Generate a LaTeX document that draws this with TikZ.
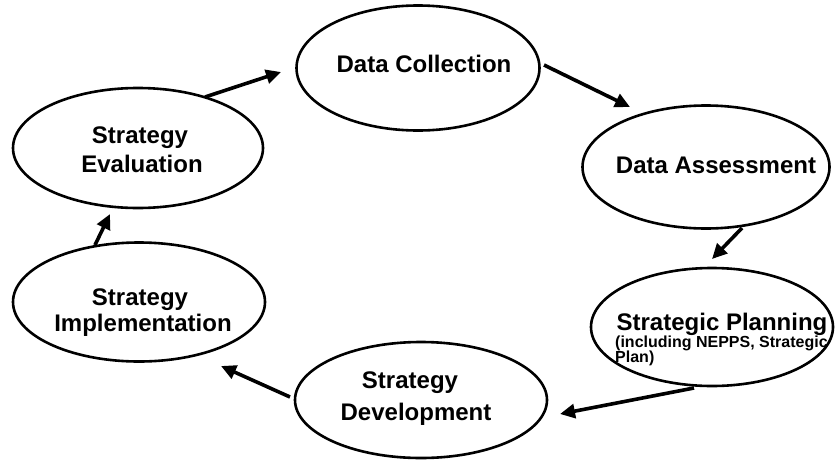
\documentclass[tikz,border=0pt]{standalone}
\usepackage{fontspec}
\setmainfont{Liberation Sans}
\usetikzlibrary{shapes.geometric,arrows.meta}
\begin{document}
\begin{tikzpicture}[x=1pt,y=-1pt,
  stage/.style={draw,line width=2.6pt,ellipse,inner sep=0pt},
  lbl/.style={inner sep=0pt,anchor=base,font=\fontsize{24}{28}\selectfont\bfseries},
  sml/.style={inner sep=0pt,anchor=base west,font=\fontsize{16}{18}\selectfont\bfseries},
  flow/.style={line width=3.6pt,-{Triangle[length=15pt,width=14pt]}}]
\useasboundingbox (0,0) rectangle (837,463);
% stages
\node[stage,minimum width=243pt,minimum height=125pt] (col) at (418,68) {};
\node[stage,minimum width=247pt,minimum height=123pt] (ass) at (706,167) {};
\node[stage,minimum width=242pt,minimum height=118pt] (pla) at (712,327) {};
\node[stage,minimum width=252pt,minimum height=116pt] (dev) at (421,400) {};
\node[stage,minimum width=252pt,minimum height=119pt] (imp) at (139,302) {};
\node[stage,minimum width=250pt,minimum height=120pt] (eva) at (138,148) {};
% labels
\node[lbl] (tcol) at (424,72) {Data Collection};
\node[lbl] (tass) at (716,173) {Data Assessment};
\node[lbl] (tpla) at (722,330) {Strategic Planning};
\node[sml] (tpla2) at (615,347) {(including NEPPS, Strategic};
\node[sml] (tpla3) at (615,362) {Plan)};
\node[lbl] (tdev1) at (410,388) {Strategy};
\node[lbl] (tdev2) at (416,420) {Development};
\node[lbl] (timp1) at (140,305) {Strategy};
\node[lbl] (timp2) at (143,331) {Implementation};
\node[lbl] (teva1) at (140,143) {Strategy};
\node[lbl] (teva2) at (142,172) {Evaluation};
% arrow ends
\coordinate (a1s) at (205,97);  \coordinate (a1e) at (281,72);
\coordinate (a2s) at (544,65);  \coordinate (a2e) at (630,107);
\coordinate (a3s) at (742,228); \coordinate (a3e) at (712,259);
\coordinate (a4s) at (694,388); \coordinate (a4e) at (560,414);
\coordinate (a5s) at (290,397); \coordinate (a5e) at (221,366);
\coordinate (a6s) at (95,245);  \coordinate (a6e) at (110,214);
\draw[flow] (a1s) -- (a1e);
\draw[flow] (a2s) -- (a2e);
\draw[flow] (a3s) -- (a3e);
\draw[flow] (a4s) -- (a4e);
\draw[flow] (a5s) -- (a5e);
\draw[flow] (a6s) -- (a6e);
\end{tikzpicture}
\end{document}
